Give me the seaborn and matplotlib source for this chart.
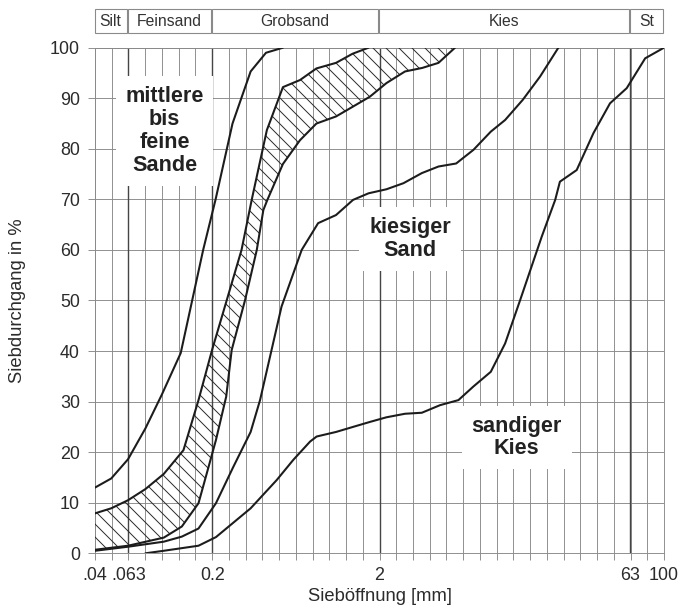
import numpy as np
import matplotlib
matplotlib.use("Agg")
import matplotlib.pyplot as plt
from matplotlib.patches import Rectangle
from matplotlib.ticker import NullLocator
import seaborn as sns

# Kornverteilungskurven: Sieboeffnung in mm, Siebdurchgang in %
fine_x = [0.04, 0.05, 0.063, 0.08, 0.1, 0.13, 0.177, 0.21, 0.265, 0.34, 0.42, 0.53]
fine_y = [13, 14.8, 18.6, 24.7, 31.3, 39.6, 60, 70, 85, 95.3, 99, 100]

band_up_x = [0.04, 0.05, 0.063, 0.08, 0.103, 0.135, 0.166, 0.2, 0.245, 0.3, 0.345,
             0.425, 0.53, 0.67, 0.84, 1.1, 1.38, 1.72]
band_up_y = [7.9, 8.9, 10.5, 12.7, 15.7, 20.4, 30.3, 40.2, 50.1, 60, 69.9,
             83.7, 92.2, 93.6, 95.9, 97, 98.8, 100]

band_lo_x = [0.04, 0.063, 0.103, 0.132, 0.166, 0.186, 0.211, 0.243, 0.262, 0.315, 0.37,
             0.405, 0.428, 0.53, 0.67, 0.84, 1.1, 1.38, 1.75, 2.2, 2.84, 3.6, 4.5, 5.65]
band_lo_y = [0.7, 1.5, 3.1, 5.3, 9.9, 15.8, 22.4, 31, 40.2, 50.1, 60,
             67.9, 69.9, 77, 81.7, 85, 86.4, 88.3, 90.3, 93, 95.3, 96, 97, 100]

ks_x = [0.04, 0.063, 0.103, 0.132, 0.166, 0.211, 0.268, 0.34, 0.387, 0.52, 0.686, 0.86,
        1.1, 1.39, 1.72, 2.2, 2.78, 3.58, 4.5, 5.74, 7.28, 9.24, 11.25, 14.35, 18.2, 23.4]
ks_y = [0.5, 1.3, 2.3, 3.3, 4.9, 9.9, 17.1, 24, 30.3, 48.8, 60, 65.3,
        66.9, 69.9, 71.2, 72, 73.2, 75.2, 76.5, 77.1, 79.8, 83.4, 85.7, 89.7, 94.3, 100]

sk_x = [0.08, 0.103, 0.166, 0.211, 0.34, 0.487, 0.612, 0.77, 0.843, 1.1, 1.39, 1.76,
        2.2, 2.84, 3.58, 4.6, 5.92, 7.28, 9.24, 11.25, 13.84, 18.6, 22.4, 23.9,
        30.1, 37.9, 47.6, 59.9, 77.2, 100]
sk_y = [0, 0.5, 1.5, 3.2, 8.9, 14.5, 18.5, 22.1, 23.1, 24, 25, 26,
        26.9, 27.6, 27.8, 29.3, 30.3, 33, 35.9, 41.5, 50.1, 62.6, 69.9, 73.5,
        75.8, 83.1, 89, 92, 97.9, 100]

# Kornfraktionen oben
regions = ['Silt', 'Feinsand', 'Grobsand', 'Kies', 'St']
region_edges = [0.04, 0.063, 0.2, 2, 63, 100]

x_tick_vals = [0.04, 0.063, 0.2, 2, 63, 100]
x_tick_text = ['.04', '.063', '0.2', '2', '63', '100']
y_ticks = list(range(0, 101, 10))

labels = ['mittlere\nbis\nfeine\nSande', 'kiesiger\nSand', 'sandiger\nKies']
label_x = [0.104, 3.04, 13.2]
label_y = [83.5, 62.2, 22.9]

sns.set_style("white")
plt.rcParams['font.family'] = ['Liberation Sans', 'DejaVu Sans']
plt.rcParams['hatch.linewidth'] = 0.9
plt.rcParams['hatch.color'] = '#2a2a2a'

DPI = 78
fig = plt.figure(figsize=(684 / DPI, 612 / DPI), dpi=DPI)
ax = fig.add_axes([95 / 684, 58.7 / 612, 569 / 684, 505.6 / 612])

grid_col = '#8a8a8a'
ax.set_xscale('log')
ax.set_xlim(0.04, 100)
ax.set_ylim(0, 100)

# vertical grid every 0.1 decade from .04 to 100
grid_x = np.logspace(np.log10(0.04), np.log10(100), 35)
tick_lbls = []
for g in grid_x:
    lab = ''
    for v, t in zip(x_tick_vals, x_tick_text):
        if abs(np.log10(g) - np.log10(v)) < 0.02:
            lab = t
    tick_lbls.append(lab)
ax.set_xticks(grid_x)
ax.set_xticklabels(tick_lbls)
ax.xaxis.set_minor_locator(NullLocator())
ax.set_yticks(y_ticks)

ax.grid(True, color=grid_col, lw=0.85)
for v in x_tick_vals[1:-1]:
    ax.axvline(v, color='#454545', lw=1.3, zorder=1.6)

for s in ax.spines.values():
    s.set_color(grid_col)
    s.set_linewidth(0.85)

ax.tick_params(axis='both', bottom=True, left=True, direction='out', length=6.5,
               width=0.85, color=grid_col, labelsize=16.5, labelcolor='#2b2b2b')
ax.tick_params(axis='x', pad=6)
ax.tick_params(axis='y', pad=7.5)

# hatched band
poly_x = band_up_x + band_lo_x[::-1]
poly_y = band_up_y + band_lo_y[::-1]
ax.fill(poly_x, poly_y, facecolor='none', edgecolor='#2a2a2a', lw=0, hatch='\\\\',
        zorder=3.2)

line_col = '#1c1c1c'
for xs, ys in [(fine_x, fine_y), (band_up_x, band_up_y), (band_lo_x, band_lo_y),
               (ks_x, ks_y), (sk_x, sk_y)]:
    sns.lineplot(x=xs, y=ys, ax=ax, color=line_col, lw=1.9, estimator=None,
                 sort=False, zorder=4)

for t, lx, ly in zip(labels, label_x, label_y):
    ax.text(lx, ly, t, ha='center', va='center', fontsize=20, fontweight='bold',
            color='#222222', linespacing=1.12, zorder=3,
            bbox=dict(facecolor='white', edgecolor='none', pad=9))

# boxes for the grain fractions
trans = ax.get_xaxis_transform()
for name, x0, x1 in zip(regions, region_edges[:-1], region_edges[1:]):
    a, b = x0 * 0.995, x1 / 1.018
    ax.add_patch(Rectangle((a, 1.0285), b - a, 0.0475, transform=trans, clip_on=False,
                           facecolor='white', edgecolor='#8a8a8a', lw=1.0))
    ax.text(np.sqrt(a * b), 1.052, name, transform=trans, ha='center', va='center',
            fontsize=14.5, color='#333333')

ax.set_xlabel('Sieböffnung [mm]', fontsize=17, color='#2b2b2b')
ax.set_ylabel('Siebdurchgang in %', fontsize=17, color='#2b2b2b')
ax.xaxis.set_label_coords(0.5, -0.068)
ax.yaxis.set_label_coords(-0.122, 0.5)

fig.savefig('out.png', dpi=DPI)
